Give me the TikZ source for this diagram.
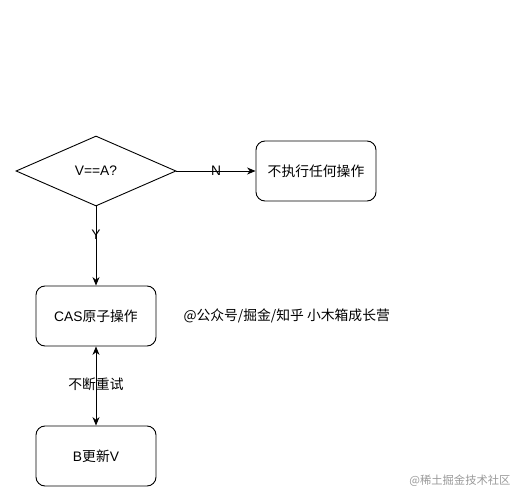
\documentclass[tikz,border=0pt]{standalone}
\usepackage{fontspec}
\setmainfont{Liberation Sans}
\newfontfamily\cjk{Noto Sans CJK SC}
\usetikzlibrary{shapes.geometric,arrows.meta}
\begin{document}
\begin{tikzpicture}[x=1pt,y=-1pt,
  every node/.style={font=\fontsize{13.8}{16}\selectfont},
  rbox/.style={draw,rounded corners=9pt,minimum width=120pt,minimum height=60pt,inner sep=0pt,line width=0.9pt},
  dec/.style={draw,diamond,aspect=2.2857,minimum width=160pt,minimum height=70pt,inner sep=0pt,line width=0.9pt},
  conn/.style={line width=0.9pt,-{Stealth[length=8.5pt,width=7pt]}},
  lbl/.style={fill=none,inner sep=1pt}]
\useasboundingbox (0,0) rectangle (523,503);
\node[dec] (d) at (96,171) {V==A?};
\node[rbox] (no) at (316,171) {\cjk 不执行任何操作};
\node[rbox] (cas) at (96,316) {CAS{\cjk 原子操作}};
\node[rbox] (b) at (96,456) {B{\cjk 更新}V};
\draw[conn] (d.east) -- node[lbl] {N} (no.west);
\draw[conn] (d.south) -- node[lbl,pos=0.36] {Y} (cas.north);
\draw[line width=0.9pt,{Stealth[length=8.5pt,width=7pt]}-{Stealth[length=8.5pt,width=7pt]}] (cas.south) -- node[lbl,pos=0.48] {\cjk 不断重试} (b.north);
\node[anchor=west] (note) at (180,316) {\cjk @公众号/掘金/知乎 小木箱成长营};
\node[anchor=east,text=black!40,font=\fontsize{11.3}{13}\selectfont] (wm) at (514,481) {\cjk @稀土掘金技术社区};
\end{tikzpicture}
\end{document}
